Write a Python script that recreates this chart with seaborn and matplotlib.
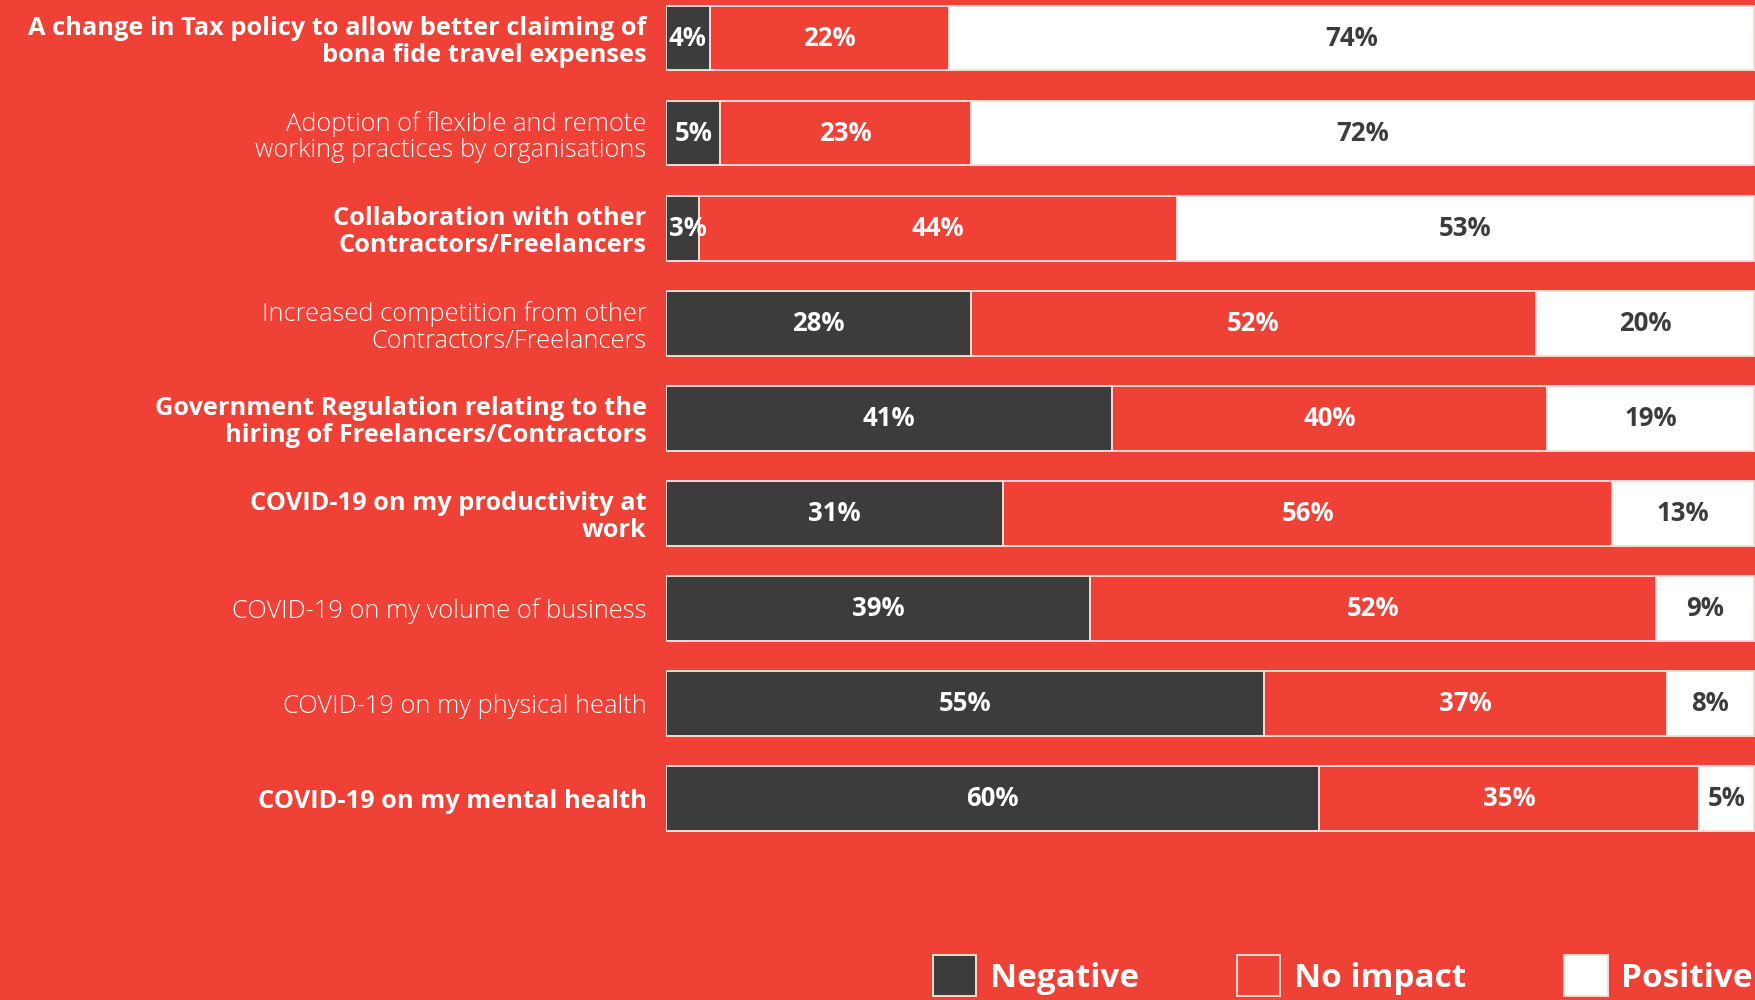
import matplotlib
matplotlib.use("Agg")
import matplotlib.pyplot as plt
from matplotlib.patches import Patch
import numpy as np
import seaborn as sns

# survey items, top to bottom
items = [
    "A change in Tax policy to allow better claiming of\nbona fide travel expenses",
    "Adoption of flexible and remote\nworking practices by organisations",
    "Collaboration with other\nContractors/Freelancers",
    "Increased competition from other\nContractors/Freelancers",
    "Government Regulation relating to the\nhiring of Freelancers/Contractors",
    "COVID-19 on my productivity at\nwork",
    "COVID-19 on my volume of business",
    "COVID-19 on my physical health",
    "COVID-19 on my mental health",
]
bold_rows = [True, False, True, False, True, True, False, False, True]

negative = [4, 5, 3, 28, 41, 31, 39, 55, 60]
no_impact = [22, 23, 44, 52, 40, 56, 52, 37, 35]
positive = [74, 72, 53, 20, 19, 13, 9, 8, 5]

series_names = ["Negative", "No impact", "Positive"]

RED = "#EF4136"
DARK = "#3C3C3C"
WHITE = "#FFFFFF"
EDGE = "#F8D9D5"

sns.set_theme(style="white")
plt.rcParams["font.family"] = ["Open Sans", "DejaVu Sans"]

fig = plt.figure(figsize=(17.56, 10), dpi=100)
fig.patch.set_facecolor(RED)
ax = fig.add_axes([666 / 1756, 0, 1 - 666 / 1756, 1])
ax.set_facecolor(RED)

neg = np.array(negative)
noi = np.array(no_impact)
pos = np.array(positive)
total = neg + noi + pos

# layered bars: full total (white), neg+no impact (red), neg (dark)
for vals, col in [(total, WHITE), (neg + noi, RED), (neg, DARK)]:
    sns.barplot(x=vals, y=items, orient="h", color=col, saturation=1,
                width=0.68, edgecolor=EDGE, linewidth=1.4, ax=ax)

ax.set_xlim(0, 100.2)
ax.set_ylim(10.118, -0.40)
ax.set_xlabel("")
ax.set_ylabel("")
ax.set_xticks([])
for s in ax.spines.values():
    s.set_visible(False)

ax.tick_params(axis="y", length=0, pad=14)
for lab, b in zip(ax.get_yticklabels(), bold_rows):
    lab.set_color("white")
    lab.set_fontsize(18.3)
    lab.set_fontweight("bold" if b else 300)
    lab.set_linespacing(1.1)

# value labels in segment centres (tiny negative share kept inside the bar)
for i in range(len(items)):
    ax.text(max(neg[i] / 2, 2.0), i, f"{neg[i]}%", ha="center", va="center",
            color="white", fontsize=18.5, fontweight="bold")
    ax.text(neg[i] + noi[i] / 2, i, f"{noi[i]}%", ha="center", va="center",
            color="white", fontsize=18.5, fontweight="bold")
    ax.text(neg[i] + noi[i] + pos[i] / 2, i, f"{pos[i]}%", ha="center",
            va="center", color=DARK, fontsize=18.5, fontweight="bold")

handles = [Patch(facecolor=c, edgecolor=EDGE, linewidth=1.4)
           for c in [DARK, RED, WHITE]]
leg = fig.legend(handles, series_names, loc="lower right",
                 bbox_to_anchor=(0.998, 0.004), ncol=3, frameon=False,
                 fontsize=24, handlelength=1.3, handleheight=1.5,
                 handletextpad=0.4, columnspacing=2.95, borderaxespad=0,
                 borderpad=0)
for t in leg.get_texts():
    t.set_color("white")
    t.set_fontweight("bold")

fig.savefig("out.png", dpi=100, facecolor=RED)
